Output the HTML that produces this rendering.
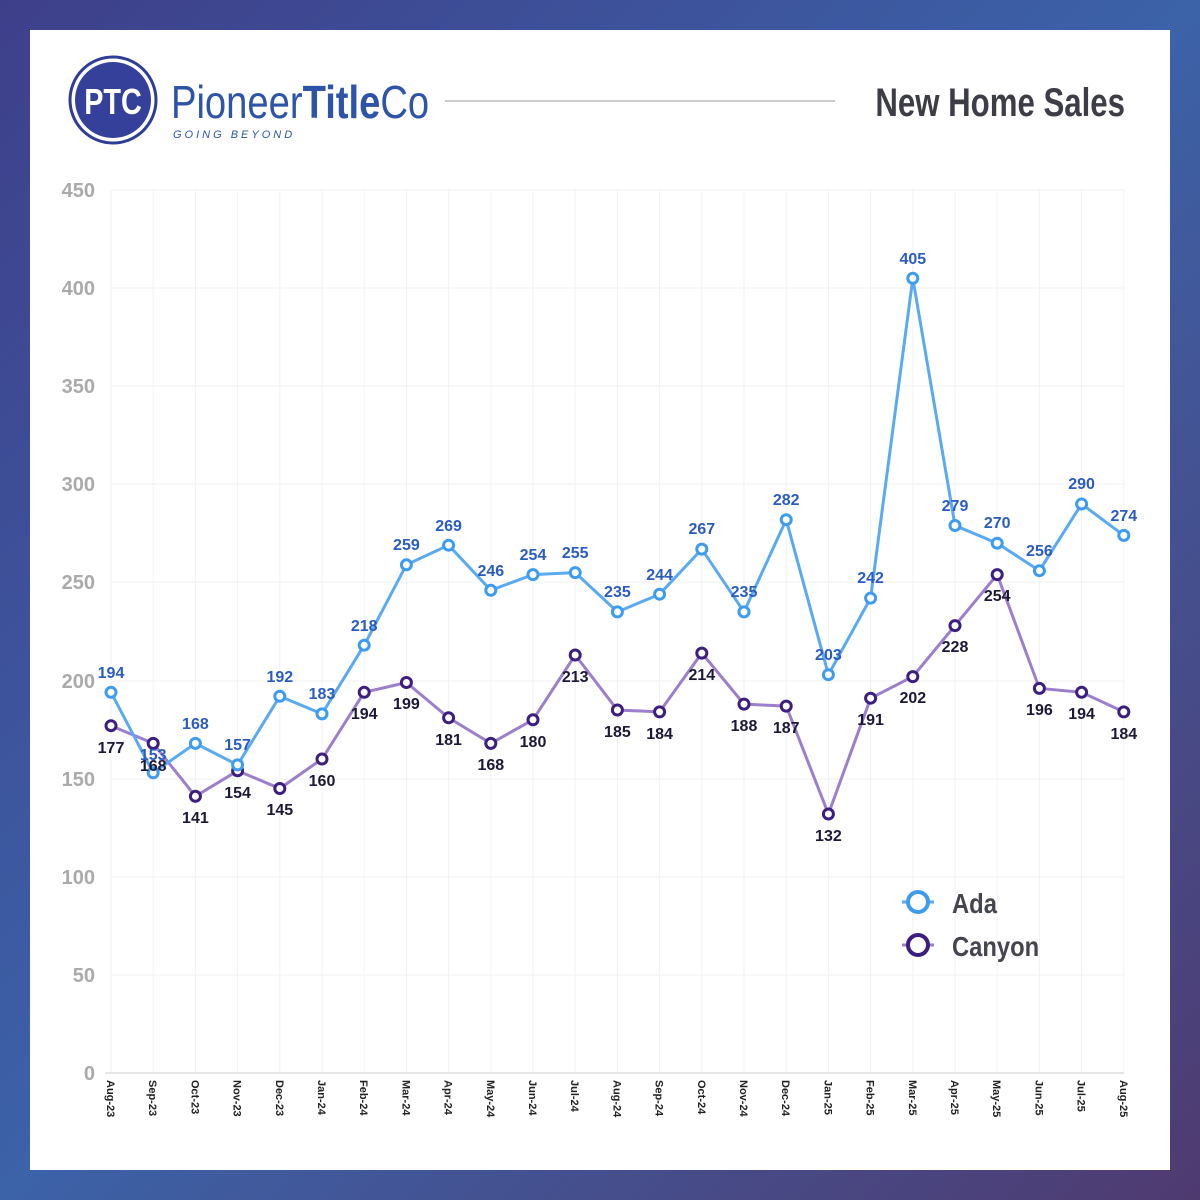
<!DOCTYPE html>
<html><head><meta charset="utf-8"><style>
html,body{margin:0;padding:0;width:1200px;height:1200px;overflow:hidden}
body{background:linear-gradient(160deg,#3d4590 0%,#3b5aa0 45%,#3d78b8 75%,#4a3e78 100%)}
svg{position:absolute;left:0;top:0}
text{font-family:"Liberation Sans",sans-serif;font-weight:bold}
</style></head><body>
<svg width="1200" height="1200" viewBox="0 0 1200 1200">
<defs><linearGradient id="bg" x1="0" y1="0" x2="1" y2="1">
<stop offset="0" stop-color="#3e3f8a"/><stop offset="0.5" stop-color="#3c62a8"/><stop offset="1" stop-color="#4f3a70"/></linearGradient></defs>
<rect width="1200" height="1200" fill="url(#bg)"/>
<rect x="30" y="30" width="1140" height="1140" fill="#fff"/>
<!-- logo -->
<circle cx="113" cy="100" r="43" fill="#fff" stroke="#2e3d95" stroke-width="3"/>
<circle cx="113" cy="100" r="38" fill="#34409a"/>
<text x="113" y="114" text-anchor="middle" fill="#fff" font-size="36" transform="translate(113 0) scale(0.8 1) translate(-113 0)" style="font-weight:bold">PTC</text>
<text x="171" y="118" fill="#2d54a8" font-size="46" style="font-weight:normal" transform="translate(171 0) scale(0.83 1) translate(-171 0)">Pioneer<tspan style="font-weight:bold">Title</tspan>Co</text>
<text x="173" y="138" fill="#2d54a8" font-size="11" font-style="italic" letter-spacing="3" style="font-weight:normal">GOING BEYOND</text>
<line x1="445" y1="101" x2="835" y2="101" stroke="#ccc" stroke-width="2"/>
<text x="1125" y="116" text-anchor="end" fill="#3d3d48" font-size="40" transform="translate(1125 0) scale(0.78 1) translate(-1125 0)">New Home Sales</text>
<!-- grid -->
<g stroke="#f2f2f2" stroke-width="1">
<line x1="111" y1="190" x2="1124" y2="190"/><line x1="111" y1="288" x2="1124" y2="288"/><line x1="111" y1="386" x2="1124" y2="386"/><line x1="111" y1="484" x2="1124" y2="484"/><line x1="111" y1="582" x2="1124" y2="582"/><line x1="111" y1="681" x2="1124" y2="681"/><line x1="111" y1="779" x2="1124" y2="779"/><line x1="111" y1="877" x2="1124" y2="877"/><line x1="111" y1="975" x2="1124" y2="975"/>
<line x1="111" y1="190" x2="111" y2="1073"/><line x1="153.2" y1="190" x2="153.2" y2="1073"/><line x1="195.4" y1="190" x2="195.4" y2="1073"/><line x1="237.6" y1="190" x2="237.6" y2="1073"/><line x1="279.8" y1="190" x2="279.8" y2="1073"/><line x1="322" y1="190" x2="322" y2="1073"/><line x1="364.2" y1="190" x2="364.2" y2="1073"/><line x1="406.4" y1="190" x2="406.4" y2="1073"/><line x1="448.6" y1="190" x2="448.6" y2="1073"/><line x1="490.8" y1="190" x2="490.8" y2="1073"/><line x1="533" y1="190" x2="533" y2="1073"/><line x1="575.2" y1="190" x2="575.2" y2="1073"/><line x1="617.4" y1="190" x2="617.4" y2="1073"/><line x1="659.6" y1="190" x2="659.6" y2="1073"/><line x1="701.8" y1="190" x2="701.8" y2="1073"/><line x1="744" y1="190" x2="744" y2="1073"/><line x1="786.2" y1="190" x2="786.2" y2="1073"/><line x1="828.4" y1="190" x2="828.4" y2="1073"/><line x1="870.6" y1="190" x2="870.6" y2="1073"/><line x1="912.8" y1="190" x2="912.8" y2="1073"/><line x1="955" y1="190" x2="955" y2="1073"/><line x1="997.2" y1="190" x2="997.2" y2="1073"/><line x1="1039.4" y1="190" x2="1039.4" y2="1073"/><line x1="1081.6" y1="190" x2="1081.6" y2="1073"/><line x1="1123.8" y1="190" x2="1123.8" y2="1073"/>
</g>
<line x1="105" y1="1073" x2="1124" y2="1073" stroke="#ddd" stroke-width="1.5"/>
<g fill="#aaa" font-size="20" text-anchor="end">
<text x="95" y="197">450</text><text x="95" y="295">400</text><text x="95" y="393">350</text><text x="95" y="491">300</text><text x="95" y="589">250</text><text x="95" y="688">200</text><text x="95" y="786">150</text><text x="95" y="884">100</text><text x="95" y="982">50</text><text x="95" y="1080">0</text>
</g>
<g fill="#222" font-size="11">
<text transform="translate(107 1080) rotate(90)">Aug-23</text><text transform="translate(149.2 1080) rotate(90)">Sep-23</text><text transform="translate(191.4 1080) rotate(90)">Oct-23</text><text transform="translate(233.6 1080) rotate(90)">Nov-23</text><text transform="translate(275.8 1080) rotate(90)">Dec-23</text><text transform="translate(318 1080) rotate(90)">Jan-24</text><text transform="translate(360.2 1080) rotate(90)">Feb-24</text><text transform="translate(402.4 1080) rotate(90)">Mar-24</text><text transform="translate(444.6 1080) rotate(90)">Apr-24</text><text transform="translate(486.8 1080) rotate(90)">May-24</text><text transform="translate(529 1080) rotate(90)">Jun-24</text><text transform="translate(571.2 1080) rotate(90)">Jul-24</text><text transform="translate(613.4 1080) rotate(90)">Aug-24</text><text transform="translate(655.6 1080) rotate(90)">Sep-24</text><text transform="translate(697.8 1080) rotate(90)">Oct-24</text><text transform="translate(740 1080) rotate(90)">Nov-24</text><text transform="translate(782.2 1080) rotate(90)">Dec-24</text><text transform="translate(824.4 1080) rotate(90)">Jan-25</text><text transform="translate(866.6 1080) rotate(90)">Feb-25</text><text transform="translate(908.8 1080) rotate(90)">Mar-25</text><text transform="translate(951 1080) rotate(90)">Apr-25</text><text transform="translate(993.2 1080) rotate(90)">May-25</text><text transform="translate(1035.4 1080) rotate(90)">Jun-25</text><text transform="translate(1077.6 1080) rotate(90)">Jul-25</text><text transform="translate(1119.8 1080) rotate(90)">Aug-25</text>
</g>
<!-- Canyon -->
<polyline fill="none" stroke="#9c7fcc" stroke-width="3" points="111,725.7 153.2,743.4 195.4,796.3 237.6,770.8 279.8,788.5 322,759 364.2,692.3 406.4,682.5 448.6,717.8 490.8,743.4 533,719.8 575.2,655 617.4,710 659.6,711.9 701.8,653.1 744,704.1 786.2,706.1 828.4,814 870.6,698.2 912.8,676.6 955,625.6 997.2,574.6 1039.4,688.4 1081.6,692.3 1123.8,711.9"/>
<g fill="#fff" stroke="#3b1e80" stroke-width="3">
<circle cx="111" cy="725.7" r="5"/><circle cx="153.2" cy="743.4" r="5"/><circle cx="195.4" cy="796.3" r="5"/><circle cx="237.6" cy="770.8" r="5"/><circle cx="279.8" cy="788.5" r="5"/><circle cx="322" cy="759" r="5"/><circle cx="364.2" cy="692.3" r="5"/><circle cx="406.4" cy="682.5" r="5"/><circle cx="448.6" cy="717.8" r="5"/><circle cx="490.8" cy="743.4" r="5"/><circle cx="533" cy="719.8" r="5"/><circle cx="575.2" cy="655" r="5"/><circle cx="617.4" cy="710" r="5"/><circle cx="659.6" cy="711.9" r="5"/><circle cx="701.8" cy="653.1" r="5"/><circle cx="744" cy="704.1" r="5"/><circle cx="786.2" cy="706.1" r="5"/><circle cx="828.4" cy="814" r="5"/><circle cx="870.6" cy="698.2" r="5"/><circle cx="912.8" cy="676.6" r="5"/><circle cx="955" cy="625.6" r="5"/><circle cx="997.2" cy="574.6" r="5"/><circle cx="1039.4" cy="688.4" r="5"/><circle cx="1081.6" cy="692.3" r="5"/><circle cx="1123.8" cy="711.9" r="5"/>
</g>
<!-- Ada -->
<polyline fill="none" stroke="#5aaaf2" stroke-width="3" points="111,692.3 153.2,772.8 195.4,743.4 237.6,764.9 279.8,696.3 322,713.9 364.2,645.2 406.4,564.8 448.6,545.2 490.8,590.3 533,574.6 575.2,572.6 617.4,611.9 659.6,594.2 701.8,549.1 744,611.9 786.2,519.7 828.4,674.7 870.6,598.1 912.8,278.3 955,525.5 997.2,543.2 1039.4,570.7 1081.6,504 1123.8,535.4"/>
<g fill="#fff" stroke="#3d9cf0" stroke-width="3">
<circle cx="111" cy="692.3" r="5"/><circle cx="153.2" cy="772.8" r="5"/><circle cx="195.4" cy="743.4" r="5"/><circle cx="237.6" cy="764.9" r="5"/><circle cx="279.8" cy="696.3" r="5"/><circle cx="322" cy="713.9" r="5"/><circle cx="364.2" cy="645.2" r="5"/><circle cx="406.4" cy="564.8" r="5"/><circle cx="448.6" cy="545.2" r="5"/><circle cx="490.8" cy="590.3" r="5"/><circle cx="533" cy="574.6" r="5"/><circle cx="575.2" cy="572.6" r="5"/><circle cx="617.4" cy="611.9" r="5"/><circle cx="659.6" cy="594.2" r="5"/><circle cx="701.8" cy="549.1" r="5"/><circle cx="744" cy="611.9" r="5"/><circle cx="786.2" cy="519.7" r="5"/><circle cx="828.4" cy="674.7" r="5"/><circle cx="870.6" cy="598.1" r="5"/><circle cx="912.8" cy="278.3" r="5"/><circle cx="955" cy="525.5" r="5"/><circle cx="997.2" cy="543.2" r="5"/><circle cx="1039.4" cy="570.7" r="5"/><circle cx="1081.6" cy="504" r="5"/><circle cx="1123.8" cy="535.4" r="5"/>
</g>
<g fill="#1c1838" font-size="16" text-anchor="middle">
<text x="111" y="753">177</text><text x="153.2" y="771">168</text><text x="195.4" y="823">141</text><text x="237.6" y="798">154</text><text x="279.8" y="815">145</text><text x="322" y="786">160</text><text x="364.2" y="719">194</text><text x="406.4" y="709">199</text><text x="448.6" y="745">181</text><text x="490.8" y="770">168</text><text x="533" y="747">180</text><text x="575.2" y="682">213</text><text x="617.4" y="737">185</text><text x="659.6" y="739">184</text><text x="701.8" y="680">214</text><text x="744" y="731">188</text><text x="786.2" y="733">187</text><text x="828.4" y="841">132</text><text x="870.6" y="725">191</text><text x="912.8" y="703">202</text><text x="955" y="652">228</text><text x="997.2" y="601">254</text><text x="1039.4" y="715">196</text><text x="1081.6" y="719">194</text><text x="1123.8" y="739">184</text>
</g>
<g fill="#2a5cc0" font-size="16" text-anchor="middle">
<text x="111" y="678">194</text><text x="153.2" y="760">153</text><text x="195.4" y="729">168</text><text x="237.6" y="750">157</text><text x="279.8" y="682">192</text><text x="322" y="699">183</text><text x="364.2" y="631">218</text><text x="406.4" y="550">259</text><text x="448.6" y="531">269</text><text x="490.8" y="576">246</text><text x="533" y="560">254</text><text x="575.2" y="558">255</text><text x="617.4" y="597">235</text><text x="659.6" y="580">244</text><text x="701.8" y="534">267</text><text x="744" y="597">235</text><text x="786.2" y="505">282</text><text x="828.4" y="660">203</text><text x="870.6" y="583">242</text><text x="912.8" y="264">405</text><text x="955" y="511">279</text><text x="997.2" y="528">270</text><text x="1039.4" y="556">256</text><text x="1081.6" y="489">290</text><text x="1123.8" y="521">274</text>
</g>
<!-- legend -->
<line x1="902" y1="902" x2="934" y2="902" stroke="#5aaaf2" stroke-width="3"/>
<circle cx="918" cy="902" r="10" fill="#fff" stroke="#3d9cf0" stroke-width="4"/>
<text x="952" y="913" fill="#454550" font-size="28" transform="translate(952 0) scale(0.85 1) translate(-952 0)">Ada</text>
<line x1="902" y1="945" x2="934" y2="945" stroke="#9c7fcc" stroke-width="3"/>
<circle cx="918" cy="945" r="10" fill="#fff" stroke="#3b1e80" stroke-width="4"/>
<text x="952" y="956" fill="#454550" font-size="28" transform="translate(952 0) scale(0.85 1) translate(-952 0)">Canyon</text>
</svg>
</body></html>
